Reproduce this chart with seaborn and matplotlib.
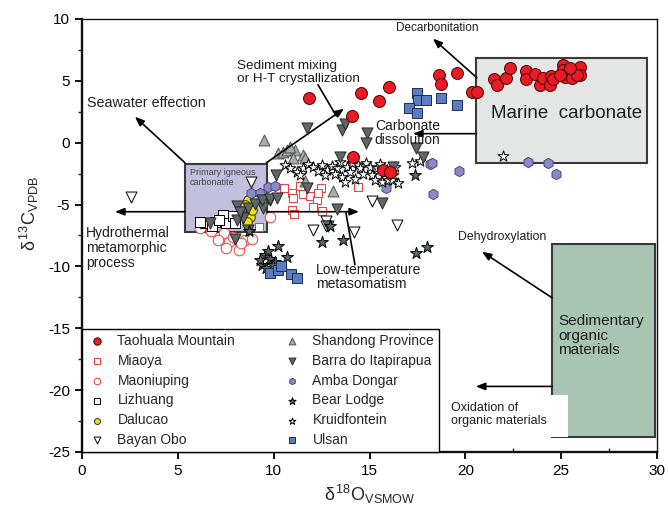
import matplotlib
matplotlib.use("Agg")
import numpy as np
import pandas as pd
import seaborn as sns
import matplotlib.pyplot as plt
from matplotlib.patches import Rectangle
from matplotlib.ticker import MultipleLocator

# data (d18O VSMOW, d13C VPDB)
taohuala_x = [11.84, 14.55, 15.49, 16.01, 14.08, 18.62, 19.56, 18.73, 20.34, 20.60, 14.14, 15.70, 16.07,
              21.49, 21.65, 22.12, 22.33, 23.16, 23.16, 23.63, 23.89, 24.05, 24.41, 24.46, 24.57,
              25.09, 25.09, 25.20, 25.35, 25.56, 25.72, 25.98, 25.98, 25.82, 24.93, 25.46]
taohuala_y = [3.64, 4.04, 3.40, 4.53, 2.18, 5.50, 5.66, 4.77, 4.12, 4.12, -1.13, -2.18, -2.34,
              5.17, 4.69, 5.25, 6.06, 5.82, 5.17, 5.58, 4.69, 5.25, 4.69, 5.42, 5.17,
              6.31, 5.90, 5.34, 5.66, 5.25, 5.90, 6.14, 5.50, 5.50, 5.50, 6.06]

miaoya_x = [10.54, 10.95, 11.01, 11.53, 11.89, 12.26, 12.47, 12.31, 12.05, 12.52, 10.95, 11.06, 14.40, 9.23, 11.37]
miaoya_y = [-3.64, -4.04, -4.45, -4.12, -4.28, -4.61, -3.64, -4.04, -5.17, -5.50, -5.42, -5.74, -3.56, -6.79, -3.48]

maoniuping_x = [6.73, 7.41, 7.67, 8.19, 8.50, 8.87, 8.29, 7.88, 9.81, 7.09, 7.51, 6.16]
maoniuping_y = [-7.11, -7.28, -8.00, -8.65, -7.84, -7.76, -8.08, -7.60, -5.98, -7.84, -8.49, -6.87]

lizhuang_x = [6.42, 6.94, 7.36, 7.51, 7.88, 7.98, 6.78, 7.15, 6.16]
lizhuang_y = [-6.47, -6.39, -5.82, -6.47, -5.90, -6.47, -6.71, -6.22, -6.39]

dalucao_x = [8.66, 8.76, 8.61, 8.87, 8.50]
dalucao_y = [-4.61, -5.98, -6.39, -5.42, -5.01]

bayanobo_x = [2.56, 8.82, 15.13, 12.05, 12.73, 12.73, 14.19, 16.43]
bayanobo_y = [-4.37, -3.15, -4.69, -7.03, -6.31, -6.71, -7.20, -6.63]

shandong_x = [9.49, 10.22, 10.49, 10.69, 11.11, 11.53, 11.01, 11.63, 13.09, 11.63, 10.85]
shandong_y = [0.24, -0.81, -0.73, -0.57, -0.57, -0.97, -1.21, -1.21, -3.88, -3.07, -0.32]

barra_x = [11.74, 13.56, 13.72, 14.87, 14.81, 13.46, 17.42, 17.79, 16.22, 10.12, 11.74, 9.81, 15.65,
           13.30, 9.44, 12.83, 6.68, 8.09, 8.40, 8.66, 9.02, 9.39, 9.81, 10.17, 7.98, 8.40, 8.09, 8.66, 8.24]
barra_y = [1.21, 1.05, 1.54, 0.81, 0.00, -1.13, -0.40, -1.13, -1.94, -2.59, -3.64, -4.61, -4.85,
           -5.34, -5.25, -6.71, -6.47, -5.09, -5.58, -5.25, -4.93, -4.61, -4.53, -4.45, -7.76, -6.06, -6.22, -7.03, -5.58]

amba_x = [8.82, 9.29, 9.70, 10.07, 15.86, 18.15, 19.67, 18.31, 23.27, 24.31, 24.73, 18.26]
amba_y = [-4.04, -4.04, -3.56, -3.48, -3.64, -1.70, -2.26, -4.12, -1.54, -1.62, -2.51, -1.62]

bear_x = [10.22, 10.69, 9.55, 9.81, 10.07, 9.39, 9.60, 9.96, 12.52, 13.62, 12.94, 17.42, 18.00, 8.71, 17.37, 9.70, 9.29]
bear_y = [-8.33, -9.22, -9.05, -9.38, -9.62, -9.86, -10.11, -9.86, -8.00, -7.84, -6.71, -8.89, -8.41, -7.11, -2.59, -8.73, -9.46]

kruid_x = [10.59, 10.85, 11.22, 11.53, 11.79, 12.05, 12.31, 12.52, 12.78, 13.04, 13.30, 13.56, 13.72, 13.82,
           13.98, 14.24, 14.40, 14.50, 14.66, 14.81, 15.02, 15.13, 15.28, 15.39, 15.55, 15.65, 15.75, 15.91,
           15.96, 16.17, 16.22, 16.33, 16.49, 17.21, 17.63, 21.96, 11.37, 12.68, 13.20, 14.08, 13.46]
kruid_y = [-1.78, -2.02, -2.34, -2.02, -1.70, -1.94, -2.26, -1.78, -2.18, -1.86, -2.02, -2.75, -3.15, -1.94,
           -2.34, -2.91, -1.78, -2.02, -2.51, -1.62, -1.94, -2.59, -2.99, -2.02, -1.70, -3.15, -2.43, -2.18,
           -2.99, -2.99, -2.59, -1.94, -3.23, -1.62, -1.46, -1.05, -2.59, -2.59, -2.51, -1.62, -1.54]

ulsan_x = [17.48, 17.53, 17.94, 17.06, 17.48, 18.73, 19.56, 9.81, 10.22, 10.38, 10.90, 11.22]
ulsan_y = [4.04, 3.48, 3.48, 2.83, 2.43, 3.64, 3.07, -10.51, -10.27, -9.94, -10.59, -10.91]

sns.set_style("ticks")
plt.rcParams['font.family'] = ['Liberation Sans', 'DejaVu Sans']
plt.rcParams['mathtext.fontset'] = 'custom'
plt.rcParams['mathtext.rm'] = 'Liberation Sans'
plt.rcParams['mathtext.it'] = 'Liberation Sans:italic'
plt.rcParams['axes.unicode_minus'] = False

fig = plt.figure(figsize=(6.68, 5.09), dpi=100)
ax = fig.add_axes([0.1228, 0.112, 0.8607, 0.8507])

# (name, x, y, marker, size, face, edge, zorder)
series = [
    ("Taohuala Mountain", taohuala_x, taohuala_y, "o", 74, "#e81c24", "#4a0000", 9),
    ("Miaoya", miaoya_x, miaoya_y, "s", 38, "white", "#ee3a3a", 3),
    ("Maoniuping", maoniuping_x, maoniuping_y, "o", 58, "white", "#ee3a3a", 3),
    ("Lizhuang", lizhuang_x, lizhuang_y, "s", 44, "white", "black", 4),
    ("Dalucao", dalucao_x, dalucao_y, "o", 48, "#f2e600", "#303030", 4),
    ("Bayan Obo", bayanobo_x, bayanobo_y, "v", 62, "white", "black", 5),
    ("Shandong Province", shandong_x, shandong_y, "^", 62, "#a9abab", "#505050", 5),
    ("Barra do Itapirapua", barra_x, barra_y, "v", 64, "#5f6767", "#2a2a2a", 7),
    ("Amba Dongar", amba_x, amba_y, "h", 56, "#8a8ac6", "#4a4a80", 4),
    ("Bear Lodge", bear_x, bear_y, "*", 80, "#5f6767", "black", 7),
    ("Kruidfontein", kruid_x, kruid_y, "*", 68, "white", "black", 6),
    ("Ulsan", ulsan_x, ulsan_y, "s", 42, "#5a7cc0", "#1e2c55", 8),
]

for name, xs, ys, mk, s, fc, ec, z in series:
    sns.scatterplot(x=xs, y=ys, marker=mk, s=s, color=fc, edgecolor=ec,
                    linewidth=0.7, label=name, ax=ax, zorder=z)

# source fields
ax.add_patch(Rectangle((20.58, -1.62), 8.92, 8.49, facecolor="#e4e6e6", edgecolor="#3a3a3a", lw=1.5, zorder=1))
ax.add_patch(Rectangle((5.37, -7.20), 4.28, 5.50, facecolor="#c2bedd", edgecolor="#3a3a3a", lw=1.5, zorder=1))
ax.add_patch(Rectangle((24.52, -23.77), 5.38, 15.61, facecolor="#a8c4b3", edgecolor="#3a3a3a", lw=1.5, zorder=1))
ax.add_patch(Rectangle((18.68, -23.80), 6.67, 3.43, facecolor="white", edgecolor="none", zorder=2))

tc = "#1e1e1e"
ax.text(25.3, 2.34, "Marine  carbonate", fontsize=13.5, ha="center", va="center", color=tc, zorder=11)
ax.text(24.85, -15.6, "Sedimentary\norganic\nmaterials", fontsize=11, ha="left", va="center",
        color=tc, linespacing=1.05, zorder=11)
ax.text(5.63, -2.83, "Primary igneous\ncarbonatite", fontsize=6.5, ha="left", va="center",
        color="#444444", linespacing=1.1, zorder=11)
ax.text(18.52, 9.30, "Decarbonitation", fontsize=8.5, ha="center", va="center", color=tc)
ax.text(8.09, 5.66, "Sediment mixing\nor H-T crystallization", fontsize=9.7, ha="left", va="center",
        color=tc, linespacing=1.1)
ax.text(0.26, 3.23, "Seawater effection", fontsize=10.3, ha="left", va="center", color=tc)
ax.text(15.28, 0.77, "Carbonate\ndissolution", fontsize=10, ha="left", va="center", color=tc,
        linespacing=1.05, zorder=11)
ax.text(0.21, -8.49, "Hydrothermal\nmetamorphic\nprocess", fontsize=10, ha="left", va="center",
        color=tc, linespacing=1.1)
ax.text(12.21, -10.87, "Low-temperature\nmetasomatism", fontsize=10, ha="left", va="center",
        color=tc, linespacing=1.05)
ax.text(21.94, -7.60, "Dehydroxylation", fontsize=8.8, ha="center", va="center", color=tc)
ax.text(19.25, -22.0, "Oxidation of\norganic materials", fontsize=9, ha="left", va="center",
        color=tc, linespacing=1.1, zorder=3)

aprops = dict(arrowstyle="-|>,head_length=0.55,head_width=0.22", color="black", lw=1.2,
              shrinkA=0, shrinkB=0)
arrows = [
    ((20.60, 5.25), (18.31, 8.41)),
    ((9.62, -1.62), (13.67, 2.75)),
    ((5.37, -1.62), (2.76, 2.10)),
    ((20.58, 0.73), (17.27, 0.73)),
    ((5.37, -5.58), (1.72, -5.58)),
    ((9.65, -5.58), (14.45, -5.58)),
    ((24.52, -12.53), (20.87, -8.81)),
    ((24.52, -19.7), (20.55, -19.7)),
]
for tail, head in arrows:
    ax.annotate("", xy=head, xytext=tail, arrowprops=aprops, zorder=6)
ax.plot([12.31, 13.25], [4.69, 2.20], color="black", lw=1.2, zorder=6)
ax.plot([14.24, 13.77], [-9.86, -5.66], color="black", lw=1.2, zorder=6)

ax.set_xlim(0, 30)
ax.set_ylim(-25, 10)
ax.xaxis.set_major_locator(MultipleLocator(5))
ax.xaxis.set_minor_locator(MultipleLocator(2.5))
ax.yaxis.set_major_locator(MultipleLocator(5))
ax.yaxis.set_minor_locator(MultipleLocator(2.5))
ax.tick_params(which="major", direction="out", length=5, width=1.3, labelsize=11, colors="black")
ax.tick_params(axis="x", which="minor", direction="in", length=3, width=1.0)
ax.tick_params(axis="y", which="minor", direction="out", length=3, width=1.0)
for side in ["left", "bottom"]:
    ax.spines[side].set_linewidth(1.7)
for side in ["top", "right"]:
    ax.spines[side].set_linewidth(1.0)
    ax.spines[side].set_visible(True)
for sp in ax.spines.values():
    sp.set_color("#111111")

ax.set_xlabel("δ$^{\\,18}$O$_{\\mathrm{VSMOW}}$", fontsize=13, labelpad=4)
ax.set_ylabel("δ$^{\\,13}$C$_{\\mathrm{VPDB}}$", fontsize=13)
ax.yaxis.set_label_coords(-0.072, 0.55)

leg = ax.legend(loc="lower left", bbox_to_anchor=(0.0, 0.0, 0.621, 0.296), mode="expand",
                ncol=2, fontsize=10, markerscale=0.62, frameon=True, fancybox=False,
                framealpha=1, edgecolor="black", borderaxespad=0, labelspacing=0.42,
                handlelength=1.4, handletextpad=0.8, borderpad=0.35)
leg.get_frame().set_linewidth(1.0)
leg.set_zorder(20)

fig.savefig("out.png", dpi=100)
